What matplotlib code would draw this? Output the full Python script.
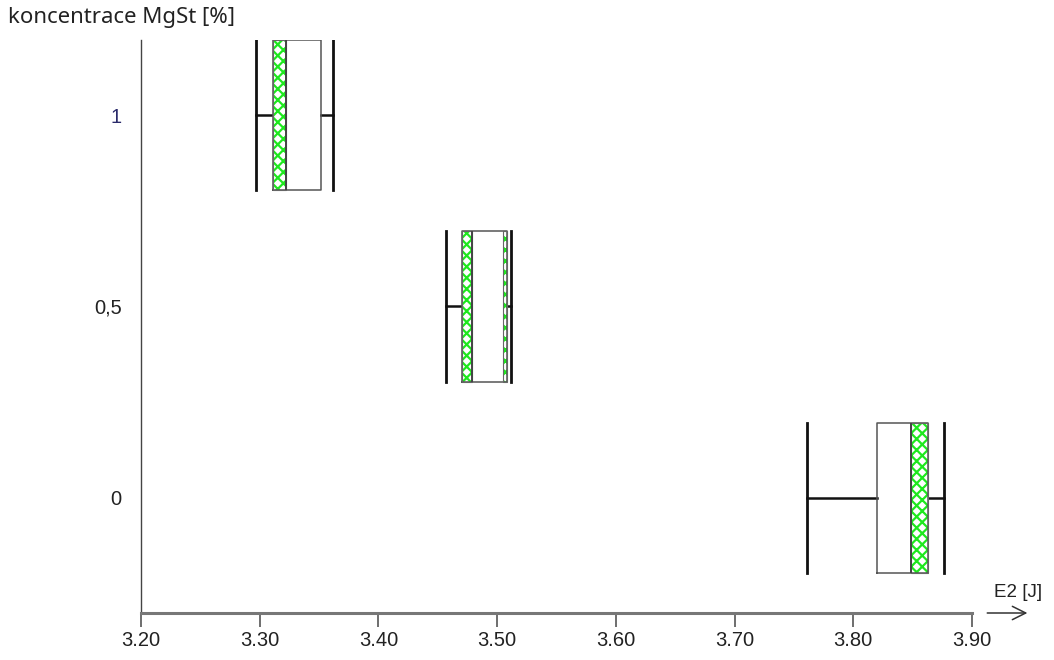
import matplotlib.pyplot as plt

plt.rcParams['font.family'] = ['Liberation Sans', 'DejaVu Sans']
plt.rcParams['hatch.linewidth'] = 1.6

# concentration levels and E2 box statistics
levels = [1.0, 0.5, 0.0]
level_labels = ['1', '0,5', '0']
whis_lo = [3.297, 3.457, 3.761]
q1 = [3.311, 3.470, 3.820]
median = [3.322, 3.479, 3.849]
q3 = [3.352, 3.508, 3.863]
whis_hi = [3.362, 3.512, 3.876]

# hatched bands (level, start, end)
band_level = [1.0, 0.5, 0.5, 0.0]
band_lo = [3.311, 3.470, 3.505, 3.849]
band_hi = [3.322, 3.479, 3.508, 3.863]

xticks = [3.20, 3.30, 3.40, 3.50, 3.60, 3.70, 3.80, 3.90]

box_h = 0.393

fig = plt.figure(figsize=(10.54, 6.6), dpi=100)
ax = fig.add_axes([141 / 1054, 47 / 660, 831 / 1054, 573 / 660])

stats = []
for i in range(len(levels)):
    stats.append(dict(med=median[i], q1=q1[i], q3=q3[i],
                      whislo=whis_lo[i], whishi=whis_hi[i], fliers=[]))

ax.bxp(stats, positions=levels, widths=box_h, vert=False,
       showfliers=False, capwidths=box_h,
       boxprops=dict(color='#555555', linewidth=1.1, zorder=3),
       whiskerprops=dict(color='#111111', linewidth=1.8),
       capprops=dict(color='#111111', linewidth=2.0),
       medianprops=dict(color='#444444', linewidth=1.4, zorder=4))

widths = [h - l for l, h in zip(band_lo, band_hi)]
ax.barh(band_level, widths, left=band_lo, height=box_h,
        color='white', edgecolor='#1ee81e', linewidth=0, hatch='xxx', zorder=2)
ax.barh(band_level, widths, left=band_lo, height=box_h,
        fill=False, edgecolor='#666666', linewidth=0.8, zorder=3)

ax.set_xlim(3.20, 3.90)
ax.set_ylim(-0.301, 1.196)
ax.set_xticks(xticks)
ax.set_xticklabels(['%.2f' % t for t in xticks])
ax.set_yticks(levels)
ax.set_yticklabels(level_labels)
for lab in ax.get_yticklabels():
    lab.set_color('#222222')
ax.get_yticklabels()[0].set_color('#2a2a6a')

ax.tick_params(axis='x', length=10, width=1.2, color='#555555', labelsize=14.5,
               pad=3, labelcolor='#222222')
ax.tick_params(axis='y', length=0, labelsize=14.5, pad=14)

for s in ['top', 'right']:
    ax.spines[s].set_visible(False)
ax.spines['left'].set_color('#444444')
ax.spines['left'].set_linewidth(1.0)
ax.spines['bottom'].set_color('#777777')
ax.spines['bottom'].set_linewidth(2.2)

ax.annotate('', xy=(1.07, 0), xytext=(1.015, 0), xycoords='axes fraction',
            arrowprops=dict(arrowstyle='->', color='#333333', lw=1.1,
                            mutation_scale=24), annotation_clip=False)
ax.text(1.056, 0.036, 'E2 [J]', transform=ax.transAxes, ha='center',
        va='center', fontsize=13.5, color='#222222')

fig.text(8 / 1054, 1 - 18 / 660, 'koncentrace MgSt [%]', ha='left',
         va='center', fontsize=16, family=['Noto Sans', 'DejaVu Sans'],
         color='#222222')

fig.savefig('out.png', dpi=100)
